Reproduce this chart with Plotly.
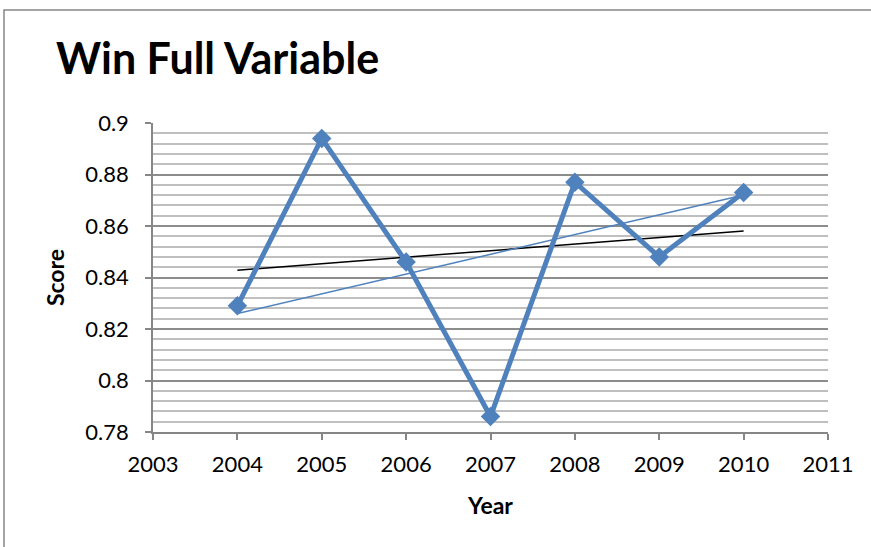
import plotly.graph_objects as go
import numpy as np

years = [2004, 2005, 2006, 2007, 2008, 2009, 2010]
scores = [0.829, 0.894, 0.846, 0.786, 0.877, 0.848, 0.873]
blue_trend_years = [2004, 2010]
blue_trend_values = [0.826, 0.872]
x_ticks = [2003, 2004, 2005, 2006, 2007, 2008, 2009, 2010, 2011]
y_ticks = [0.78, 0.8, 0.82, 0.84, 0.86, 0.88, 0.9]
y_tick_labels = ["0.78", "0.8", "0.82", "0.84", "0.86", "0.88", "0.9"]

slope, intercept = np.polyfit(years, scores, 1)
black_trend_years = [years[0], years[-1]]
black_trend_values = [slope * x + intercept for x in black_trend_years]

FONT = "Lato"
BLUE = "#4F81BD"

fig = go.Figure()
fig.add_trace(go.Scatter(x=black_trend_years, y=black_trend_values, mode="lines",
                         line=dict(color="black", width=1.5), showlegend=False))
fig.add_trace(go.Scatter(x=blue_trend_years, y=blue_trend_values, mode="lines",
                         line=dict(color=BLUE, width=1.5), showlegend=False))
fig.add_trace(go.Scatter(x=years, y=scores, mode="lines+markers",
                         line=dict(color=BLUE, width=5),
                         marker=dict(symbol="diamond", size=15, color=BLUE),
                         showlegend=False))

fig.update_layout(
    width=871, height=547,
    margin=dict(l=153, r=43, t=123, b=115),
    paper_bgcolor="white", plot_bgcolor="white",
    font=dict(family=FONT, color="black"),
    title=dict(text="<b>Win Full Variable</b>", font=dict(family=FONT, size=43, color="black"),
               x=56/871, xanchor="left", y=1-59/547, yanchor="middle"),
    xaxis=dict(range=[2003, 2011], tickvals=x_ticks, ticktext=[str(v) for v in x_ticks],
               showgrid=False, zeroline=False, showline=True, linecolor="#868686", linewidth=1.5,
               ticks="outside", ticklen=6, tickcolor="#868686", tickwidth=1.5,
               tickfont=dict(family=FONT, size=22), ticklabelstandoff=6,
               title=dict(text="<b>Year</b>", font=dict(family=FONT, size=23), standoff=22)),
    yaxis=dict(range=[0.78, 0.9], tickvals=y_ticks, ticktext=y_tick_labels,
               showgrid=True, gridcolor="#8C8C8C", gridwidth=1.5, zeroline=False,
               showline=True, linecolor="#868686", linewidth=1.5,
               ticks="outside", ticklen=6, tickcolor="#868686", tickwidth=1.5,
               tickfont=dict(family=FONT, size=22), ticklabelstandoff=12,
               minor=dict(dtick=0.004, tick0=0.78, showgrid=True, gridcolor="#BFBFBF", gridwidth=1.5),
               title=dict(text="<b>Score</b>", font=dict(family=FONT, size=23), standoff=14)),
)

# outer chart border (extends beyond the visible page on right/bottom)
fig.add_shape(type="rect", xref="paper", yref="paper",
              x0=(4 - 153) / 675, x1=1.2, y0=-0.6, y1=(432 - 10) / 309,
              line=dict(color="#868686", width=1.5), fillcolor="rgba(0,0,0,0)", layer="below")

fig.write_html("out.html", config={"displayModeBar": False})

with open("out.html", "r", encoding="utf-8") as f:
    html = f.read()
html = html.replace("<head>", "<head><style>html,body{margin:0;padding:0;overflow:hidden;}</style>", 1)
with open("out.html", "w", encoding="utf-8") as f:
    f.write(html)
